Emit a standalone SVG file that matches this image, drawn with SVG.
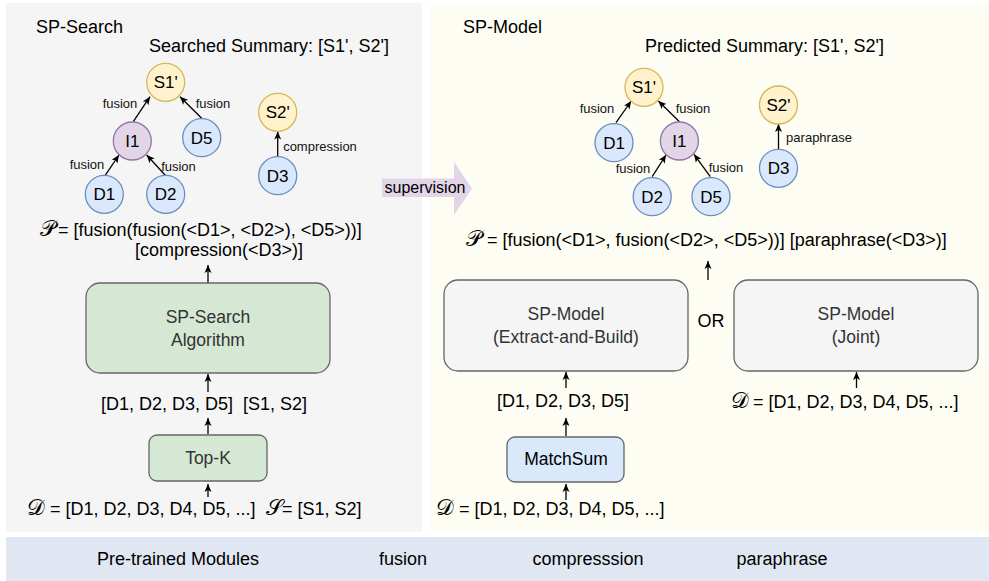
<svg xmlns="http://www.w3.org/2000/svg" width="989" height="581" viewBox="0 0 989 581">
<style>
text{font-family:"Liberation Sans",Arial,sans-serif;fill:#000}
.t18{font-size:18px}
.box{font-size:17.5px;fill:#333;text-anchor:middle}
.lbl{font-size:13px;text-anchor:middle;fill:#111}
.nd{font-size:17px;text-anchor:middle}
.sc{font-family:"DejaVu Serif","DejaVu Sans","Noto Sans",serif;font-size:22px}
.y{fill:#fff2cc;stroke:#d6b656;stroke-width:1.3}
.p{fill:#e1d5e7;stroke:#9673a6;stroke-width:1.3}
.b{fill:#dae8fc;stroke:#6c8ebf;stroke-width:1.3}
.e{stroke:#000;stroke-width:1.3;fill:none;marker-end:url(#ah)}
.gbox{fill:#d5e8d4;stroke:#666;stroke-width:1.3}
.wbox{fill:#f5f5f5;stroke:#666;stroke-width:1.3}
.bbox{fill:#dae8fc;stroke:#666;stroke-width:1.3}
</style>
<defs>
<marker id="ah" markerWidth="9" markerHeight="8" refX="8" refY="4" orient="auto" markerUnits="userSpaceOnUse"><path d="M0,0.5 L8,4 L0,7.5 L2,4 z" fill="#000"/></marker>
</defs>
<rect width="989" height="581" fill="#fff"/>
<g id="panel-left"><rect x="6" y="3" width="416" height="529" fill="#f5f5f5"/></g>
<g id="panel-right"><rect x="430" y="3" width="559" height="530" fill="#fdfdf3"/></g>
<g id="band"><rect x="6" y="537" width="983" height="44" fill="#e0e7f3"/>
<text class="t18" x="178" y="565" text-anchor="middle">Pre-trained Modules</text>
<text class="t18" x="403" y="565" text-anchor="middle">fusion</text>
<text class="t18" x="588" y="565" text-anchor="middle">compresssion</text>
<text class="t18" x="782" y="565" text-anchor="middle">paraphrase</text>
</g>
<g id="supervision">
<polygon points="382,178.5 454,178.5 454,162 472,188.5 454,215 454,197 382,197" fill="#e1d5e7"/>
<text x="425" y="192.5" font-size="16" text-anchor="middle">supervision</text>
</g>
<g id="titles">
<text class="t18" x="36" y="33">SP-Search</text>
<text class="t18" x="149" y="52">Searched Summary: [S1', S2']</text>
<text class="t18" x="463" y="33">SP-Model</text>
<text class="t18" x="645" y="52">Predicted Summary: [S1', S2']</text>
</g>
<g id="connectors">
<path class="e" d="M133.3,121.7 L150,96.7"/>
<path class="e" d="M201.7,118.3 L180,96.7"/>
<path class="e" d="M105,175.7 L119,155"/>
<path class="e" d="M165.7,175.7 L146.7,155"/>
<path class="e" d="M277.7,156.7 L277.7,131.5"/>
<path class="e" d="M616,122.7 L631.2,101"/>
<path class="e" d="M679.4,121.7 L658.4,101"/>
<path class="e" d="M652.2,176.7 L666,155"/>
<path class="e" d="M710.3,176.7 L694,154.3"/>
<path class="e" d="M778.5,149 L778.5,124"/>
<path class="e" d="M208,283 L208,265"/>
<path class="e" d="M208,392 L208,374"/>
<path class="e" d="M208,434 L208,418"/>
<path class="e" d="M208,497 L208,484"/>
<path class="e" d="M708,280 L708,261"/>
<path class="e" d="M566,388 L566,372"/>
<path class="e" d="M566,436 L566,418"/>
<path class="e" d="M566,500 L566,484"/>
<path class="e" d="M856.5,388 L856.5,372"/>
<text class="lbl" x="120" y="107.5">fusion</text>
<text class="lbl" x="213" y="107.5">fusion</text>
<text class="lbl" x="87" y="168.5">fusion</text>
<text class="lbl" x="178.5" y="170.5">fusion</text>
<text class="lbl" x="320" y="150.5">compression</text>
<text class="lbl" x="597" y="112.5">fusion</text>
<text class="lbl" x="693" y="112.5">fusion</text>
<text class="lbl" x="633" y="172.5">fusion</text>
<text class="lbl" x="726" y="171.5">fusion</text>
<text class="lbl" x="819" y="141.5">paraphrase</text>
</g>
<g id="L-S1"><circle class="y" cx="165.7" cy="82.3" r="19"/><text class="nd" x="165.7" y="88.3">S1'</text></g>
<g id="L-I1"><circle class="p" cx="132.3" cy="141" r="19"/><text class="nd" x="132.3" y="147">I1</text></g>
<g id="L-D5"><circle class="b" cx="201.7" cy="137.7" r="19"/><text class="nd" x="201.7" y="143.7">D5</text></g>
<g id="L-D1"><circle class="b" cx="104.3" cy="194.3" r="19"/><text class="nd" x="104.3" y="200.3">D1</text></g>
<g id="L-D2"><circle class="b" cx="165.7" cy="194.3" r="19"/><text class="nd" x="165.7" y="200.3">D2</text></g>
<g id="L-S2"><circle class="y" cx="277.7" cy="112.3" r="19"/><text class="nd" x="277.7" y="118.3">S2'</text></g>
<g id="L-D3"><circle class="b" cx="277.7" cy="175.7" r="19"/><text class="nd" x="277.7" y="181.7">D3</text></g>
<g id="R-S1"><circle class="y" cx="644" cy="87.3" r="19"/><text class="nd" x="644" y="93.3">S1'</text></g>
<g id="R-D1"><circle class="b" cx="614" cy="142.7" r="19"/><text class="nd" x="614" y="148.7">D1</text></g>
<g id="R-I1"><circle class="p" cx="679.4" cy="141" r="19"/><text class="nd" x="679.4" y="147">I1</text></g>
<g id="R-D2"><circle class="b" cx="652.2" cy="196.7" r="19"/><text class="nd" x="652.2" y="202.7">D2</text></g>
<g id="R-D5"><circle class="b" cx="711" cy="196.7" r="19"/><text class="nd" x="711" y="202.7">D5</text></g>
<g id="R-S2"><circle class="y" cx="778.5" cy="105" r="19"/><text class="nd" x="778.5" y="111">S2'</text></g>
<g id="R-D3"><circle class="b" cx="778.5" cy="168.3" r="19"/><text class="nd" x="778.5" y="174.3">D3</text></g>
<g id="L-formula">
<text class="t18" y="236"><tspan class="sc" x="40">𝒫</tspan><tspan x="58">= [fusion(fusion(&lt;D1&gt;, &lt;D2&gt;), &lt;D5&gt;))]</tspan></text>
<text class="t18" x="135" y="256">[compression(&lt;D3&gt;)]</text>
</g>
<g id="R-formula">
<text class="t18" y="246"><tspan class="sc" x="466">𝒫</tspan><tspan x="487">= [fusion(&lt;D1&gt;, fusion(&lt;D2&gt;, &lt;D5&gt;))] [paraphrase(&lt;D3&gt;)]</tspan></text>
</g>
<g id="sp-search-algorithm"><rect class="gbox" x="86" y="283" width="244" height="90" rx="14"/>
<text class="box" x="208" y="323">SP-Search</text><text class="box" x="208" y="346">Algorithm</text></g>
<g id="L-mid-label"><text class="t18" x="204" y="410" text-anchor="middle" xml:space="preserve">[D1, D2, D3, D5]  [S1, S2]</text></g>
<g id="top-k"><rect class="gbox" x="149" y="435" width="118" height="46" rx="8"/>
<text class="box" x="208" y="464">Top-K</text></g>
<g id="L-input">
<text class="t18" y="515"><tspan class="sc" x="27">𝒟</tspan><tspan x="50">= [D1, D2, D3, D4, D5, ...]</tspan><tspan class="sc" x="266">𝒮</tspan><tspan x="282">= [S1, S2]</tspan></text>
</g>
<g id="sp-model-eab"><rect class="wbox" x="444" y="280" width="244" height="91" rx="14"/>
<text class="box" x="566" y="320">SP-Model</text><text class="box" x="566" y="343">(Extract-and-Build)</text></g>
<g id="or"><text class="t18" x="711" y="327" text-anchor="middle">OR</text></g>
<g id="sp-model-joint"><rect class="wbox" x="734" y="280" width="244" height="91" rx="14"/>
<text class="box" x="856" y="320">SP-Model</text><text class="box" x="856" y="343">(Joint)</text></g>
<g id="R-mid-label"><text class="t18" x="563" y="407" text-anchor="middle">[D1, D2, D3, D5]</text></g>
<g id="matchsum"><rect class="bbox" x="507" y="437" width="117" height="45" rx="8"/>
<text class="box" x="566" y="465" style="fill:#000">MatchSum</text></g>
<g id="R-input">
<text class="t18" y="515"><tspan class="sc" x="436">𝒟</tspan><tspan x="459">= [D1, D2, D3, D4, D5, ...]</tspan></text>
<text class="t18" y="408"><tspan class="sc" x="731">𝒟</tspan><tspan x="753">= [D1, D2, D3, D4, D5, ...]</tspan></text>
</g>
</svg>
